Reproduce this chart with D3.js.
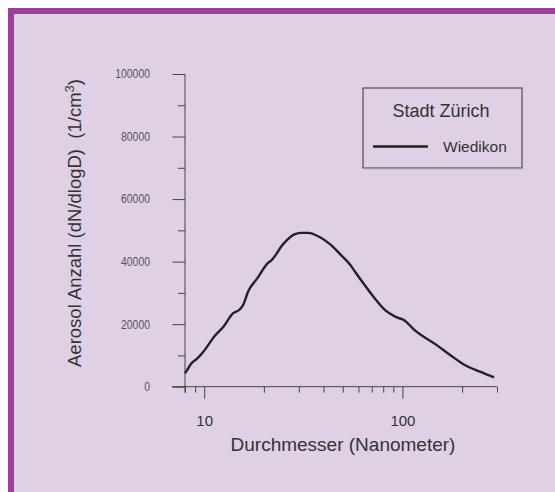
<!DOCTYPE html>
<html>
<head>
<meta charset="utf-8">
<script src="https://cdn.jsdelivr.net/npm/d3@7"></script>
<style>
  html, body { margin: 0; padding: 0; background: #ffffff; }
  svg { display: block; }
</style>
</head>
<body>
<svg id="chart" width="555" height="492"></svg>
<script>
// ---- data ----
const diameters = [8.0, 8.2, 8.6, 9.15, 9.9, 11.3, 12.5, 14.0, 15.1, 15.7, 16.7, 18.4, 21.0, 21.9, 25.0, 28.7, 31.1, 33.5, 38.4, 43.1, 48.5, 54.5, 57.8, 62.3, 71.4, 81.8, 91.9, 103, 113.7, 149, 174, 203, 246, 290];
const counts    = [4300, 5300, 7400, 8800, 11200, 16200, 19200, 23500, 24700, 26100, 30600, 34400, 39600, 40500, 45600, 48800, 49200, 49200, 47800, 45600, 42400, 39000, 36700, 33800, 28800, 24500, 22400, 21100, 18400, 13300, 10150, 7200, 4800, 3000];
const xMinorTicks = [8, 9, 20, 30, 40, 50, 60, 70, 80, 90, 200, 300];
const xMajorTicks = [10, 100];
const yMajorTicks = [0, 20000, 40000, 60000, 80000, 100000];
const yMinorTicks = [10000, 30000, 50000, 70000, 90000];
const seriesName = "Wiedikon";
const legendTitle = "Stadt Zürich";
const xTitle = "Durchmesser (Nanometer)";

const svg = d3.select("#chart");
const font = "'Liberation Sans', Arial, Helvetica, sans-serif";

// frame
svg.append("rect").attr("x", 8).attr("y", 8).attr("width", 547).attr("height", 484).attr("fill", "#9c3f99");
svg.append("rect").attr("x", 14).attr("y", 14).attr("width", 541).attr("height", 478).attr("fill", "#dfd0e6");

const x = d3.scaleLog().domain([8, 300]).range([185, 497]);
const y = d3.scaleLinear().domain([0, 100000]).range([386.7, 74]);

const axisColor = "#444";
const labelColor = "#555";

// x axis
const gx = svg.append("g").attr("transform", `translate(0,${y(0)})`);
gx.call(d3.axisBottom(x).tickValues(xMinorTicks).tickSize(6).tickSizeOuter(0).tickFormat(""));
const gx2 = svg.append("g").attr("transform", `translate(0,${y(0)})`);
gx2.call(d3.axisBottom(x).tickValues(xMajorTicks).tickSize(12).tickPadding(17).tickSizeOuter(0).tickFormat(d3.format("d")));
[gx, gx2].forEach(g => {
  g.select(".domain").remove();
  g.selectAll("line").attr("stroke", axisColor);
});
gx2.selectAll("text").attr("font-family", font).attr("font-size", 15).attr("fill", "#333");
svg.append("line").attr("x1", 172).attr("x2", x(300)).attr("y1", y(0)).attr("y2", y(0)).attr("stroke", axisColor);

// y axis
const gy = svg.append("g").attr("transform", `translate(${x(8)},0)`);
gy.call(d3.axisLeft(y).tickValues(yMinorTicks).tickSize(7).tickSizeOuter(0).tickFormat(""));
const gy2 = svg.append("g").attr("transform", `translate(${x(8)},0)`);
gy2.call(d3.axisLeft(y).tickValues(yMajorTicks).tickSize(12.5).tickPadding(22.5).tickSizeOuter(0).tickFormat(d3.format("d")));
[gy, gy2].forEach(g => {
  g.select(".domain").remove();
  g.selectAll("line").attr("stroke", axisColor);
});
gy2.selectAll("text")
  .attr("font-family", font)
  .attr("font-size", 12).attr("fill", labelColor)
  .attr("textLength", d => String(d).length * 5.8)
  .attr("lengthAdjust", "spacingAndGlyphs");
svg.append("line").attr("x1", x(8)).attr("x2", x(8)).attr("y1", y(100000)).attr("y2", y(0) + 6).attr("stroke", axisColor);

// curve
const line = d3.line().x((d, i) => x(diameters[i])).y((d, i) => y(counts[i])).curve(d3.curveMonotoneX);
svg.append("path").datum(counts).attr("d", line)
  .attr("fill", "none").attr("stroke", "#222").attr("stroke-width", 2.4).attr("stroke-linejoin", "round");

// axis titles
svg.append("text").attr("x", 343).attr("y", 451).attr("text-anchor", "middle")
  .attr("font-family", font).attr("font-size", 19).attr("fill", "#333")
  .text(xTitle);

const yt = svg.append("text").attr("transform", "translate(81,223) rotate(-90)").attr("text-anchor", "middle")
  .attr("xml:space", "preserve").style("white-space", "pre")
  .attr("font-family", font).attr("font-size", 18.5).attr("fill", "#333");
yt.append("tspan").text("Aerosol Anzahl (dN/dlogD)  (1/cm");
yt.append("tspan").attr("baseline-shift", "super").attr("font-size", 13).text("3");
yt.append("tspan").text(")");

// legend
const lg = svg.append("g");
lg.append("rect").attr("x", 363).attr("y", 88).attr("width", 159).attr("height", 80)
  .attr("fill", "none").attr("stroke", "#333").attr("stroke-width", 1);
lg.append("line").attr("x1", 363).attr("x2", 522).attr("y1", 168.5).attr("y2", 168.5).attr("stroke", "#999").attr("stroke-width", 1.5);
lg.append("text").attr("x", 441).attr("y", 117).attr("text-anchor", "middle")
  .attr("font-family", font).attr("font-size", 18).attr("fill", "#333").text(legendTitle);
lg.append("line").attr("x1", 373).attr("x2", 428).attr("y1", 146.5).attr("y2", 146.5).attr("stroke", "#222").attr("stroke-width", 2.4);
lg.append("text").attr("x", 443).attr("y", 152).attr("font-family", font)
  .attr("font-size", 15.5).attr("fill", "#333").text(seriesName);
</script>
</body>
</html>
